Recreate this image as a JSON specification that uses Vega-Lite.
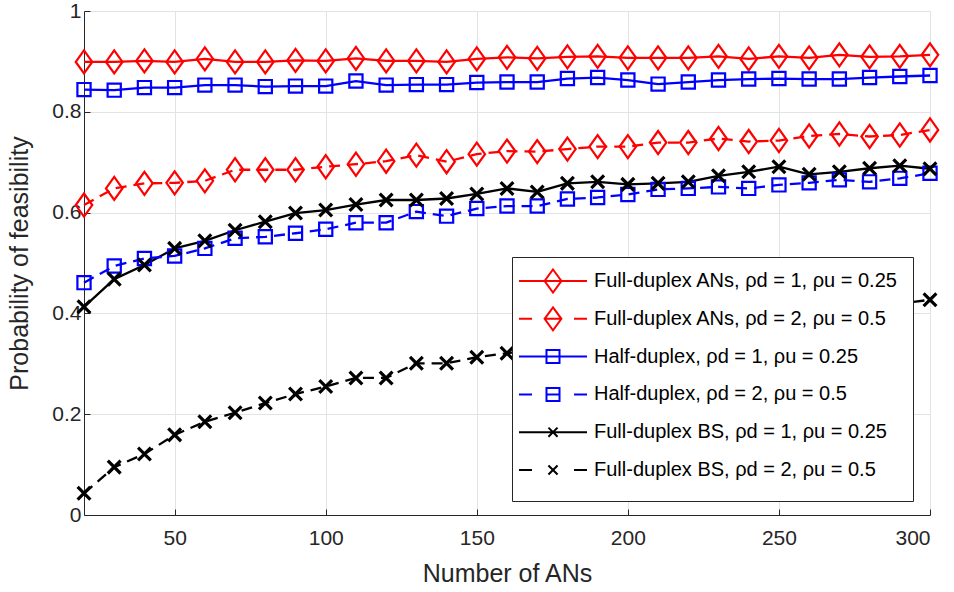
{
  "$schema": "https://vega.github.io/schema/vega-lite/v6.json",
  "width": 846,
  "height": 504,
  "autosize": {"type": "none"},
  "padding": {"left": 84, "top": 11, "right": 24, "bottom": 77},
  "background": "white",
  "config": {
    "font": "Liberation Sans",
    "view": {"stroke": null},
    "axis": {
      "grid": true,
      "gridColor": "#e3e3e3",
      "gridWidth": 1,
      "domainColor": "#262626",
      "domainWidth": 1,
      "tickColor": "#262626",
      "tickSize": -6,
      "labelFontSize": 21,
      "labelColor": "#262626",
      "titleFontSize": 25,
      "titleFontWeight": "normal",
      "titleColor": "#262626"
    }
  },
  "data": {
    "values": [
      {"n": 20, "p": 0.899, "series": "Full-duplex ANs, ρd = 1, ρu = 0.25"},
      {"n": 30, "p": 0.899, "series": "Full-duplex ANs, ρd = 1, ρu = 0.25"},
      {"n": 40, "p": 0.901, "series": "Full-duplex ANs, ρd = 1, ρu = 0.25"},
      {"n": 50, "p": 0.899, "series": "Full-duplex ANs, ρd = 1, ρu = 0.25"},
      {"n": 60, "p": 0.905, "series": "Full-duplex ANs, ρd = 1, ρu = 0.25"},
      {"n": 70, "p": 0.899, "series": "Full-duplex ANs, ρd = 1, ρu = 0.25"},
      {"n": 80, "p": 0.899, "series": "Full-duplex ANs, ρd = 1, ρu = 0.25"},
      {"n": 90, "p": 0.902, "series": "Full-duplex ANs, ρd = 1, ρu = 0.25"},
      {"n": 100, "p": 0.901, "series": "Full-duplex ANs, ρd = 1, ρu = 0.25"},
      {"n": 110, "p": 0.906, "series": "Full-duplex ANs, ρd = 1, ρu = 0.25"},
      {"n": 120, "p": 0.901, "series": "Full-duplex ANs, ρd = 1, ρu = 0.25"},
      {"n": 130, "p": 0.901, "series": "Full-duplex ANs, ρd = 1, ρu = 0.25"},
      {"n": 140, "p": 0.899, "series": "Full-duplex ANs, ρd = 1, ρu = 0.25"},
      {"n": 150, "p": 0.905, "series": "Full-duplex ANs, ρd = 1, ρu = 0.25"},
      {"n": 160, "p": 0.908, "series": "Full-duplex ANs, ρd = 1, ρu = 0.25"},
      {"n": 170, "p": 0.906, "series": "Full-duplex ANs, ρd = 1, ρu = 0.25"},
      {"n": 180, "p": 0.909, "series": "Full-duplex ANs, ρd = 1, ρu = 0.25"},
      {"n": 190, "p": 0.910, "series": "Full-duplex ANs, ρd = 1, ρu = 0.25"},
      {"n": 200, "p": 0.907, "series": "Full-duplex ANs, ρd = 1, ρu = 0.25"},
      {"n": 210, "p": 0.907, "series": "Full-duplex ANs, ρd = 1, ρu = 0.25"},
      {"n": 220, "p": 0.907, "series": "Full-duplex ANs, ρd = 1, ρu = 0.25"},
      {"n": 230, "p": 0.910, "series": "Full-duplex ANs, ρd = 1, ρu = 0.25"},
      {"n": 240, "p": 0.905, "series": "Full-duplex ANs, ρd = 1, ρu = 0.25"},
      {"n": 250, "p": 0.910, "series": "Full-duplex ANs, ρd = 1, ρu = 0.25"},
      {"n": 260, "p": 0.907, "series": "Full-duplex ANs, ρd = 1, ρu = 0.25"},
      {"n": 270, "p": 0.913, "series": "Full-duplex ANs, ρd = 1, ρu = 0.25"},
      {"n": 280, "p": 0.909, "series": "Full-duplex ANs, ρd = 1, ρu = 0.25"},
      {"n": 290, "p": 0.910, "series": "Full-duplex ANs, ρd = 1, ρu = 0.25"},
      {"n": 300, "p": 0.913, "series": "Full-duplex ANs, ρd = 1, ρu = 0.25"},

      {"n": 20, "p": 0.615, "series": "Full-duplex ANs, ρd = 2, ρu = 0.5"},
      {"n": 30, "p": 0.648, "series": "Full-duplex ANs, ρd = 2, ρu = 0.5"},
      {"n": 40, "p": 0.658, "series": "Full-duplex ANs, ρd = 2, ρu = 0.5"},
      {"n": 50, "p": 0.659, "series": "Full-duplex ANs, ρd = 2, ρu = 0.5"},
      {"n": 60, "p": 0.663, "series": "Full-duplex ANs, ρd = 2, ρu = 0.5"},
      {"n": 70, "p": 0.685, "series": "Full-duplex ANs, ρd = 2, ρu = 0.5"},
      {"n": 80, "p": 0.685, "series": "Full-duplex ANs, ρd = 2, ρu = 0.5"},
      {"n": 90, "p": 0.685, "series": "Full-duplex ANs, ρd = 2, ρu = 0.5"},
      {"n": 100, "p": 0.691, "series": "Full-duplex ANs, ρd = 2, ρu = 0.5"},
      {"n": 110, "p": 0.696, "series": "Full-duplex ANs, ρd = 2, ρu = 0.5"},
      {"n": 120, "p": 0.702, "series": "Full-duplex ANs, ρd = 2, ρu = 0.5"},
      {"n": 130, "p": 0.714, "series": "Full-duplex ANs, ρd = 2, ρu = 0.5"},
      {"n": 140, "p": 0.701, "series": "Full-duplex ANs, ρd = 2, ρu = 0.5"},
      {"n": 150, "p": 0.716, "series": "Full-duplex ANs, ρd = 2, ρu = 0.5"},
      {"n": 160, "p": 0.722, "series": "Full-duplex ANs, ρd = 2, ρu = 0.5"},
      {"n": 170, "p": 0.721, "series": "Full-duplex ANs, ρd = 2, ρu = 0.5"},
      {"n": 180, "p": 0.726, "series": "Full-duplex ANs, ρd = 2, ρu = 0.5"},
      {"n": 190, "p": 0.731, "series": "Full-duplex ANs, ρd = 2, ρu = 0.5"},
      {"n": 200, "p": 0.731, "series": "Full-duplex ANs, ρd = 2, ρu = 0.5"},
      {"n": 210, "p": 0.739, "series": "Full-duplex ANs, ρd = 2, ρu = 0.5"},
      {"n": 220, "p": 0.739, "series": "Full-duplex ANs, ρd = 2, ρu = 0.5"},
      {"n": 230, "p": 0.747, "series": "Full-duplex ANs, ρd = 2, ρu = 0.5"},
      {"n": 240, "p": 0.741, "series": "Full-duplex ANs, ρd = 2, ρu = 0.5"},
      {"n": 250, "p": 0.743, "series": "Full-duplex ANs, ρd = 2, ρu = 0.5"},
      {"n": 260, "p": 0.752, "series": "Full-duplex ANs, ρd = 2, ρu = 0.5"},
      {"n": 270, "p": 0.756, "series": "Full-duplex ANs, ρd = 2, ρu = 0.5"},
      {"n": 280, "p": 0.751, "series": "Full-duplex ANs, ρd = 2, ρu = 0.5"},
      {"n": 290, "p": 0.754, "series": "Full-duplex ANs, ρd = 2, ρu = 0.5"},
      {"n": 300, "p": 0.764, "series": "Full-duplex ANs, ρd = 2, ρu = 0.5"},

      {"n": 20, "p": 0.844, "series": "Half-duplex, ρd = 1, ρu = 0.25"},
      {"n": 30, "p": 0.843, "series": "Half-duplex, ρd = 1, ρu = 0.25"},
      {"n": 40, "p": 0.848, "series": "Half-duplex, ρd = 1, ρu = 0.25"},
      {"n": 50, "p": 0.848, "series": "Half-duplex, ρd = 1, ρu = 0.25"},
      {"n": 60, "p": 0.853, "series": "Half-duplex, ρd = 1, ρu = 0.25"},
      {"n": 70, "p": 0.853, "series": "Half-duplex, ρd = 1, ρu = 0.25"},
      {"n": 80, "p": 0.850, "series": "Half-duplex, ρd = 1, ρu = 0.25"},
      {"n": 90, "p": 0.851, "series": "Half-duplex, ρd = 1, ρu = 0.25"},
      {"n": 100, "p": 0.851, "series": "Half-duplex, ρd = 1, ρu = 0.25"},
      {"n": 110, "p": 0.861, "series": "Half-duplex, ρd = 1, ρu = 0.25"},
      {"n": 120, "p": 0.853, "series": "Half-duplex, ρd = 1, ρu = 0.25"},
      {"n": 130, "p": 0.854, "series": "Half-duplex, ρd = 1, ρu = 0.25"},
      {"n": 140, "p": 0.854, "series": "Half-duplex, ρd = 1, ρu = 0.25"},
      {"n": 150, "p": 0.858, "series": "Half-duplex, ρd = 1, ρu = 0.25"},
      {"n": 160, "p": 0.859, "series": "Half-duplex, ρd = 1, ρu = 0.25"},
      {"n": 170, "p": 0.859, "series": "Half-duplex, ρd = 1, ρu = 0.25"},
      {"n": 180, "p": 0.866, "series": "Half-duplex, ρd = 1, ρu = 0.25"},
      {"n": 190, "p": 0.868, "series": "Half-duplex, ρd = 1, ρu = 0.25"},
      {"n": 200, "p": 0.863, "series": "Half-duplex, ρd = 1, ρu = 0.25"},
      {"n": 210, "p": 0.855, "series": "Half-duplex, ρd = 1, ρu = 0.25"},
      {"n": 220, "p": 0.859, "series": "Half-duplex, ρd = 1, ρu = 0.25"},
      {"n": 230, "p": 0.863, "series": "Half-duplex, ρd = 1, ρu = 0.25"},
      {"n": 240, "p": 0.865, "series": "Half-duplex, ρd = 1, ρu = 0.25"},
      {"n": 250, "p": 0.866, "series": "Half-duplex, ρd = 1, ρu = 0.25"},
      {"n": 260, "p": 0.865, "series": "Half-duplex, ρd = 1, ρu = 0.25"},
      {"n": 270, "p": 0.865, "series": "Half-duplex, ρd = 1, ρu = 0.25"},
      {"n": 280, "p": 0.868, "series": "Half-duplex, ρd = 1, ρu = 0.25"},
      {"n": 290, "p": 0.870, "series": "Half-duplex, ρd = 1, ρu = 0.25"},
      {"n": 300, "p": 0.872, "series": "Half-duplex, ρd = 1, ρu = 0.25"},

      {"n": 20, "p": 0.461, "series": "Half-duplex, ρd = 2, ρu = 0.5"},
      {"n": 30, "p": 0.494, "series": "Half-duplex, ρd = 2, ρu = 0.5"},
      {"n": 40, "p": 0.509, "series": "Half-duplex, ρd = 2, ρu = 0.5"},
      {"n": 50, "p": 0.514, "series": "Half-duplex, ρd = 2, ρu = 0.5"},
      {"n": 60, "p": 0.529, "series": "Half-duplex, ρd = 2, ρu = 0.5"},
      {"n": 70, "p": 0.549, "series": "Half-duplex, ρd = 2, ρu = 0.5"},
      {"n": 80, "p": 0.552, "series": "Half-duplex, ρd = 2, ρu = 0.5"},
      {"n": 90, "p": 0.559, "series": "Half-duplex, ρd = 2, ρu = 0.5"},
      {"n": 100, "p": 0.567, "series": "Half-duplex, ρd = 2, ρu = 0.5"},
      {"n": 110, "p": 0.580, "series": "Half-duplex, ρd = 2, ρu = 0.5"},
      {"n": 120, "p": 0.580, "series": "Half-duplex, ρd = 2, ρu = 0.5"},
      {"n": 130, "p": 0.602, "series": "Half-duplex, ρd = 2, ρu = 0.5"},
      {"n": 140, "p": 0.593, "series": "Half-duplex, ρd = 2, ρu = 0.5"},
      {"n": 150, "p": 0.608, "series": "Half-duplex, ρd = 2, ρu = 0.5"},
      {"n": 160, "p": 0.613, "series": "Half-duplex, ρd = 2, ρu = 0.5"},
      {"n": 170, "p": 0.613, "series": "Half-duplex, ρd = 2, ρu = 0.5"},
      {"n": 180, "p": 0.627, "series": "Half-duplex, ρd = 2, ρu = 0.5"},
      {"n": 190, "p": 0.630, "series": "Half-duplex, ρd = 2, ρu = 0.5"},
      {"n": 200, "p": 0.636, "series": "Half-duplex, ρd = 2, ρu = 0.5"},
      {"n": 210, "p": 0.646, "series": "Half-duplex, ρd = 2, ρu = 0.5"},
      {"n": 220, "p": 0.648, "series": "Half-duplex, ρd = 2, ρu = 0.5"},
      {"n": 230, "p": 0.651, "series": "Half-duplex, ρd = 2, ρu = 0.5"},
      {"n": 240, "p": 0.648, "series": "Half-duplex, ρd = 2, ρu = 0.5"},
      {"n": 250, "p": 0.655, "series": "Half-duplex, ρd = 2, ρu = 0.5"},
      {"n": 260, "p": 0.659, "series": "Half-duplex, ρd = 2, ρu = 0.5"},
      {"n": 270, "p": 0.665, "series": "Half-duplex, ρd = 2, ρu = 0.5"},
      {"n": 280, "p": 0.661, "series": "Half-duplex, ρd = 2, ρu = 0.5"},
      {"n": 290, "p": 0.668, "series": "Half-duplex, ρd = 2, ρu = 0.5"},
      {"n": 300, "p": 0.678, "series": "Half-duplex, ρd = 2, ρu = 0.5"},

      {"n": 20, "p": 0.413, "series": "Full-duplex BS, ρd = 1, ρu = 0.25"},
      {"n": 30, "p": 0.468, "series": "Full-duplex BS, ρd = 1, ρu = 0.25"},
      {"n": 40, "p": 0.496, "series": "Full-duplex BS, ρd = 1, ρu = 0.25"},
      {"n": 50, "p": 0.529, "series": "Full-duplex BS, ρd = 1, ρu = 0.25"},
      {"n": 60, "p": 0.544, "series": "Full-duplex BS, ρd = 1, ρu = 0.25"},
      {"n": 70, "p": 0.565, "series": "Full-duplex BS, ρd = 1, ρu = 0.25"},
      {"n": 80, "p": 0.582, "series": "Full-duplex BS, ρd = 1, ρu = 0.25"},
      {"n": 90, "p": 0.599, "series": "Full-duplex BS, ρd = 1, ρu = 0.25"},
      {"n": 100, "p": 0.605, "series": "Full-duplex BS, ρd = 1, ρu = 0.25"},
      {"n": 110, "p": 0.616, "series": "Full-duplex BS, ρd = 1, ρu = 0.25"},
      {"n": 120, "p": 0.625, "series": "Full-duplex BS, ρd = 1, ρu = 0.25"},
      {"n": 130, "p": 0.625, "series": "Full-duplex BS, ρd = 1, ρu = 0.25"},
      {"n": 140, "p": 0.628, "series": "Full-duplex BS, ρd = 1, ρu = 0.25"},
      {"n": 150, "p": 0.637, "series": "Full-duplex BS, ρd = 1, ρu = 0.25"},
      {"n": 160, "p": 0.648, "series": "Full-duplex BS, ρd = 1, ρu = 0.25"},
      {"n": 170, "p": 0.641, "series": "Full-duplex BS, ρd = 1, ρu = 0.25"},
      {"n": 180, "p": 0.658, "series": "Full-duplex BS, ρd = 1, ρu = 0.25"},
      {"n": 190, "p": 0.661, "series": "Full-duplex BS, ρd = 1, ρu = 0.25"},
      {"n": 200, "p": 0.656, "series": "Full-duplex BS, ρd = 1, ρu = 0.25"},
      {"n": 210, "p": 0.658, "series": "Full-duplex BS, ρd = 1, ρu = 0.25"},
      {"n": 220, "p": 0.661, "series": "Full-duplex BS, ρd = 1, ρu = 0.25"},
      {"n": 230, "p": 0.673, "series": "Full-duplex BS, ρd = 1, ρu = 0.25"},
      {"n": 240, "p": 0.681, "series": "Full-duplex BS, ρd = 1, ρu = 0.25"},
      {"n": 250, "p": 0.691, "series": "Full-duplex BS, ρd = 1, ρu = 0.25"},
      {"n": 260, "p": 0.676, "series": "Full-duplex BS, ρd = 1, ρu = 0.25"},
      {"n": 270, "p": 0.681, "series": "Full-duplex BS, ρd = 1, ρu = 0.25"},
      {"n": 280, "p": 0.688, "series": "Full-duplex BS, ρd = 1, ρu = 0.25"},
      {"n": 290, "p": 0.693, "series": "Full-duplex BS, ρd = 1, ρu = 0.25"},
      {"n": 300, "p": 0.687, "series": "Full-duplex BS, ρd = 1, ρu = 0.25"},

      {"n": 20, "p": 0.043, "series": "Full-duplex BS, ρd = 2, ρu = 0.5"},
      {"n": 30, "p": 0.095, "series": "Full-duplex BS, ρd = 2, ρu = 0.5"},
      {"n": 40, "p": 0.121, "series": "Full-duplex BS, ρd = 2, ρu = 0.5"},
      {"n": 50, "p": 0.159, "series": "Full-duplex BS, ρd = 2, ρu = 0.5"},
      {"n": 60, "p": 0.185, "series": "Full-duplex BS, ρd = 2, ρu = 0.5"},
      {"n": 70, "p": 0.203, "series": "Full-duplex BS, ρd = 2, ρu = 0.5"},
      {"n": 80, "p": 0.222, "series": "Full-duplex BS, ρd = 2, ρu = 0.5"},
      {"n": 90, "p": 0.240, "series": "Full-duplex BS, ρd = 2, ρu = 0.5"},
      {"n": 100, "p": 0.255, "series": "Full-duplex BS, ρd = 2, ρu = 0.5"},
      {"n": 110, "p": 0.272, "series": "Full-duplex BS, ρd = 2, ρu = 0.5"},
      {"n": 120, "p": 0.272, "series": "Full-duplex BS, ρd = 2, ρu = 0.5"},
      {"n": 130, "p": 0.301, "series": "Full-duplex BS, ρd = 2, ρu = 0.5"},
      {"n": 140, "p": 0.301, "series": "Full-duplex BS, ρd = 2, ρu = 0.5"},
      {"n": 150, "p": 0.313, "series": "Full-duplex BS, ρd = 2, ρu = 0.5"},
      {"n": 160, "p": 0.321, "series": "Full-duplex BS, ρd = 2, ρu = 0.5"},
      {"n": 300, "p": 0.427, "series": "Full-duplex BS, ρd = 2, ρu = 0.5"}
    ]
  },
  "encoding": {
    "x": {
      "field": "n",
      "type": "quantitative",
      "scale": {"domain": [20, 300], "nice": false, "zero": false},
      "axis": {
        "values": [50, 100, 150, 200, 250, 300],
        "title": "Number of ANs",
        "labelPadding": 18,
        "titlePadding": 13
      }
    },
    "y": {
      "field": "p",
      "type": "quantitative",
      "scale": {"domain": [0, 1], "nice": false},
      "axis": {
        "values": [0, 0.2, 0.4, 0.6, 0.8, 1],
        "format": "~g",
        "title": "Probability of feasibility",
        "labelPadding": 9,
        "titlePadding": 19
      }
    },
    "color": {
      "field": "series",
      "type": "nominal",
      "scale": {
        "domain": [
          "Full-duplex ANs, ρd = 1, ρu = 0.25",
          "Full-duplex ANs, ρd = 2, ρu = 0.5",
          "Half-duplex, ρd = 1, ρu = 0.25",
          "Half-duplex, ρd = 2, ρu = 0.5",
          "Full-duplex BS, ρd = 1, ρu = 0.25",
          "Full-duplex BS, ρd = 2, ρu = 0.5"
        ],
        "range": ["#ff0000", "#ff0000", "#0000ff", "#0000ff", "#000000", "#000000"]
      },
      "legend": {
        "title": null,
        "orient": "none",
        "legendX": 428,
        "legendY": 246,
        "fillColor": "white",
        "strokeColor": "#262626",
        "padding": 14,
        "labelFontSize": 20,
        "labelColor": "#000000",
        "labelLimit": 400,
        "symbolSize": 196,
        "symbolOpacity": 1,
        "symbolOffset": 17,
        "labelOffset": 31,
        "rowPadding": 3.8,
        "symbolStrokeWidth": 2,
        "symbolFillColor": "transparent"
      }
    }
  },
  "layer": [
    {
      "transform": [{"filter": "test(/= 1,/, datum.series)"}],
      "mark": {"type": "line", "strokeJoin": "round", "strokeWidth": 2.3}
    },
    {
      "transform": [{"filter": "test(/= 2,/, datum.series)"}],
      "mark": {"type": "line", "strokeJoin": "round", "strokeWidth": 2.3, "strokeDash": [11, 7]}
    },
    {
      "transform": [{"filter": "test(/ANs/, datum.series)"}],
      "mark": {"type": "point", "filled": false, "size": 484, "opacity": 1, "strokeWidth": 2.2, "shape": "M0,-1.05L0.75,0L0,1.05L-0.75,0Z"}
    },
    {
      "transform": [{"filter": "test(/Half/, datum.series)"}],
      "mark": {"type": "point", "filled": false, "size": 484, "opacity": 1, "strokeWidth": 2.2, "shape": "M-0.6,-0.6H0.6V0.6H-0.6Z"}
    },
    {
      "transform": [{"filter": "test(/BS/, datum.series)"}],
      "mark": {"type": "point", "filled": false, "size": 484, "opacity": 1, "strokeWidth": 3.2, "shape": "M-0.58,-0.58L0.58,0.58M-0.58,0.58L0.58,-0.58"}
    },
    {
      "mark": {"type": "point", "filled": false, "opacity": 0},
      "encoding": {
        "shape": {
          "field": "series",
          "type": "nominal",
          "scale": {
            "domain": [
              "Full-duplex ANs, ρd = 1, ρu = 0.25",
              "Full-duplex ANs, ρd = 2, ρu = 0.5",
              "Half-duplex, ρd = 1, ρu = 0.25",
              "Half-duplex, ρd = 2, ρu = 0.5",
              "Full-duplex BS, ρd = 1, ρu = 0.25",
              "Full-duplex BS, ρd = 2, ρu = 0.5"
            ],
            "range": [
              "M-4.86,0H4.86M0,-1.64L1.2,0L0,1.64L-1.2,0ZM0,-1.75M0,1.75",
              "M-4.86,0H-3M-1.2,0H1.2M3,0H4.86M0,-1.64L1.2,0L0,1.64L-1.2,0ZM0,-1.75M0,1.75",
              "M-4.86,0H4.86M-0.93,-0.93H0.93V0.93H-0.93ZM0,-1.75M0,1.75",
              "M-4.86,0H-3M-0.93,0H0.93M3,0H4.86M-0.93,-0.93H0.93V0.93H-0.93ZM0,-1.75M0,1.75",
              "M-4.86,0H4.86M-0.65,-0.65L0.65,0.65M-0.65,0.65L0.65,-0.65M0,-1.75M0,1.75",
              "M-4.86,0H-3M3,0H4.86M-0.65,-0.65L0.65,0.65M-0.65,0.65L0.65,-0.65M0,-1.75M0,1.75"
            ]
          }
        },
        "strokeWidth": {
          "field": "series",
          "type": "nominal",
          "scale": {
            "domain": [
              "Full-duplex ANs, ρd = 1, ρu = 0.25",
              "Full-duplex ANs, ρd = 2, ρu = 0.5",
              "Half-duplex, ρd = 1, ρu = 0.25",
              "Half-duplex, ρd = 2, ρu = 0.5",
              "Full-duplex BS, ρd = 1, ρu = 0.25",
              "Full-duplex BS, ρd = 2, ρu = 0.5"
            ],
            "range": [2, 2, 2, 2, 2.8, 2.8]
          }
        }
      }
    }
  ]
}
